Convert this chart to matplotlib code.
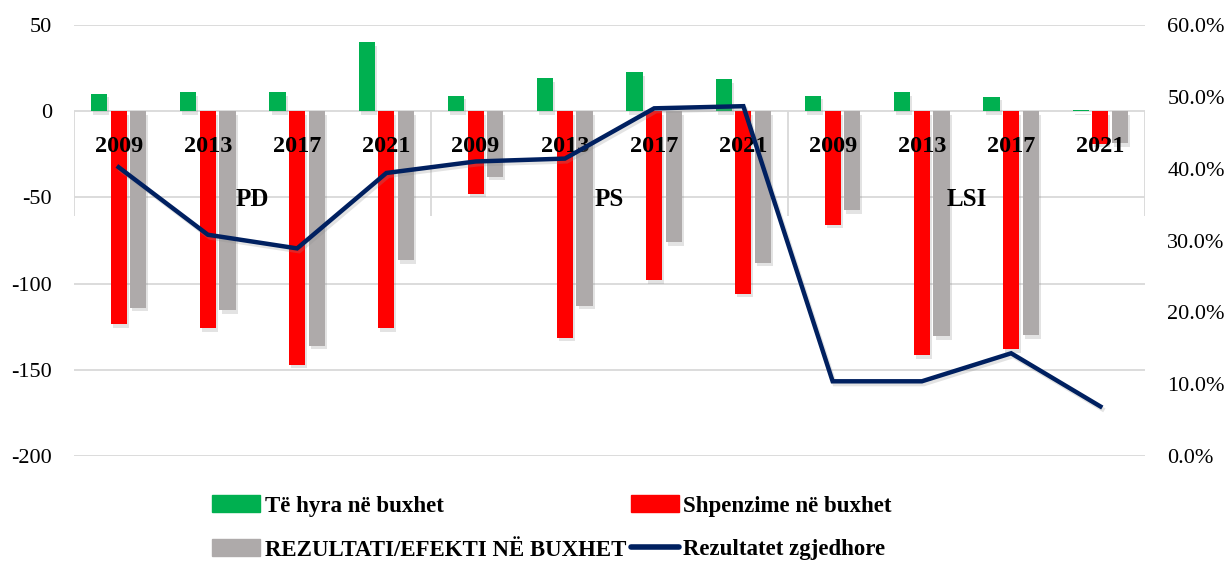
import matplotlib
matplotlib.use('Agg')
import matplotlib.pyplot as plt
import matplotlib.patheffects as pe
from matplotlib.lines import Line2D
from matplotlib.patches import Patch
from matplotlib.ticker import FuncFormatter

plt.rcParams['font.family'] = ['Liberation Serif', 'DejaVu Serif']

# Data
parties = ['PD', 'PS', 'LSI']
years = ['2009', '2013', '2017', '2021']
te_hyra = [10, 11, 11, 40, 9, 19, 22.5, 18.5, 9, 11, 8.5, 0.5]
shpenzime = [-123.5, -126, -147, -126, -48, -131.5, -98, -106, -66, -141.5, -138, -19]
rezultati = [-114, -115.5, -136, -86.5, -38, -113, -76, -88, -57.5, -130.5, -130, -18.7]
rezultatet_zgjedhore = [40.2, 30.8, 28.9, 39.4, 41.0, 41.4, 48.4, 48.7, 10.4, 10.4, 14.3, 6.9]

green = '#00B050'
red = '#FF0000'
gray = '#AEAAAA'
navy = '#002060'
grid_c = '#D9D9D9'

n = len(te_hyra)
x = list(range(n))
w = 0.18
off = 0.22

fig = plt.figure(figsize=(12.28, 5.62), dpi=100)
ax = fig.add_axes([74 / 1228, 1 - 456 / 562, (1145 - 74) / 1228, 431 / 562])

shadow = [pe.SimplePatchShadow(offset=(1.5, -2.5), shadow_rgbFace='#909090', alpha=0.25), pe.Normal()]

b1 = ax.bar([i - off for i in x], te_hyra, w, color=green, zorder=2)
b2 = ax.bar(x, shpenzime, w, color=red, zorder=2)
b3 = ax.bar([i + off for i in x], rezultati, w, color=gray, zorder=2)
for bars in (b1, b2, b3):
    for p in bars:
        p.set_path_effects(shadow)

ax.set_xlim(-0.5, n - 0.5)
ax.set_ylim(-200, 50)
ax.set_yticks([-200, -150, -100, -50, 0, 50])
ax.set_yticklabels(['-200', '-150', '-100', '-50', '0', '50'])
ax.yaxis.grid(True, color=grid_c, linewidth=1.3)
ax.set_axisbelow(True)
ax.set_xticks([])
for s in ax.spines.values():
    s.set_visible(False)
ax.tick_params(axis='y', length=0, pad=16, labelsize=16)

# category axis: dividers and labels
for b in range(len(parties) + 1):
    ax.vlines(b * 4 - 0.5, -61, 0, color=grid_c, linewidth=1.3, zorder=1)
for i in x:
    ax.text(i, -20.5, years[i % 4], ha='center', va='center', fontsize=17.5,
            fontweight='bold', zorder=3)
for k, p in enumerate(parties):
    ax.text(k * 4 + 1.5, -51.5, p, ha='center', va='center', fontsize=18,
            fontweight='bold', zorder=3)

ax2 = ax.twinx()
ax2.plot(x, [v / 100 for v in rezultatet_zgjedhore], color=navy, linewidth=3.2,
         solid_joinstyle='miter',
         path_effects=[pe.SimpleLineShadow(offset=(1.5, -2), shadow_color='#909090', alpha=0.25), pe.Normal()])
ax2.set_ylim(0, 0.6)
ax2.set_yticks([0, 0.1, 0.2, 0.3, 0.4, 0.5, 0.6])
ax2.yaxis.set_major_formatter(FuncFormatter(lambda v, pos: '{:.1f}%'.format(v * 100)))
ax2.tick_params(axis='y', length=0, pad=16, labelsize=16)
for s in ax2.spines.values():
    s.set_visible(False)

handles = [Patch(color=green), Patch(color=gray), Patch(color=red),
           Line2D([0], [0], color=navy, linewidth=4, solid_capstyle='round')]
labels = ['Të hyra në buxhet', 'REZULTATI/EFEKTI NË BUXHET',
          'Shpenzime në buxhet', 'Rezultatet zgjedhore']
fig.legend(handles, labels, ncol=2, loc='center', bbox_to_anchor=(552 / 1228, 1 - 528 / 562),
           frameon=False, prop={'weight': 'bold', 'size': 16.5}, handlelength=2.1,
           handletextpad=0.2, columnspacing=0.2, labelspacing=1.0, borderpad=0)

fig.savefig('out.png', dpi=100)
